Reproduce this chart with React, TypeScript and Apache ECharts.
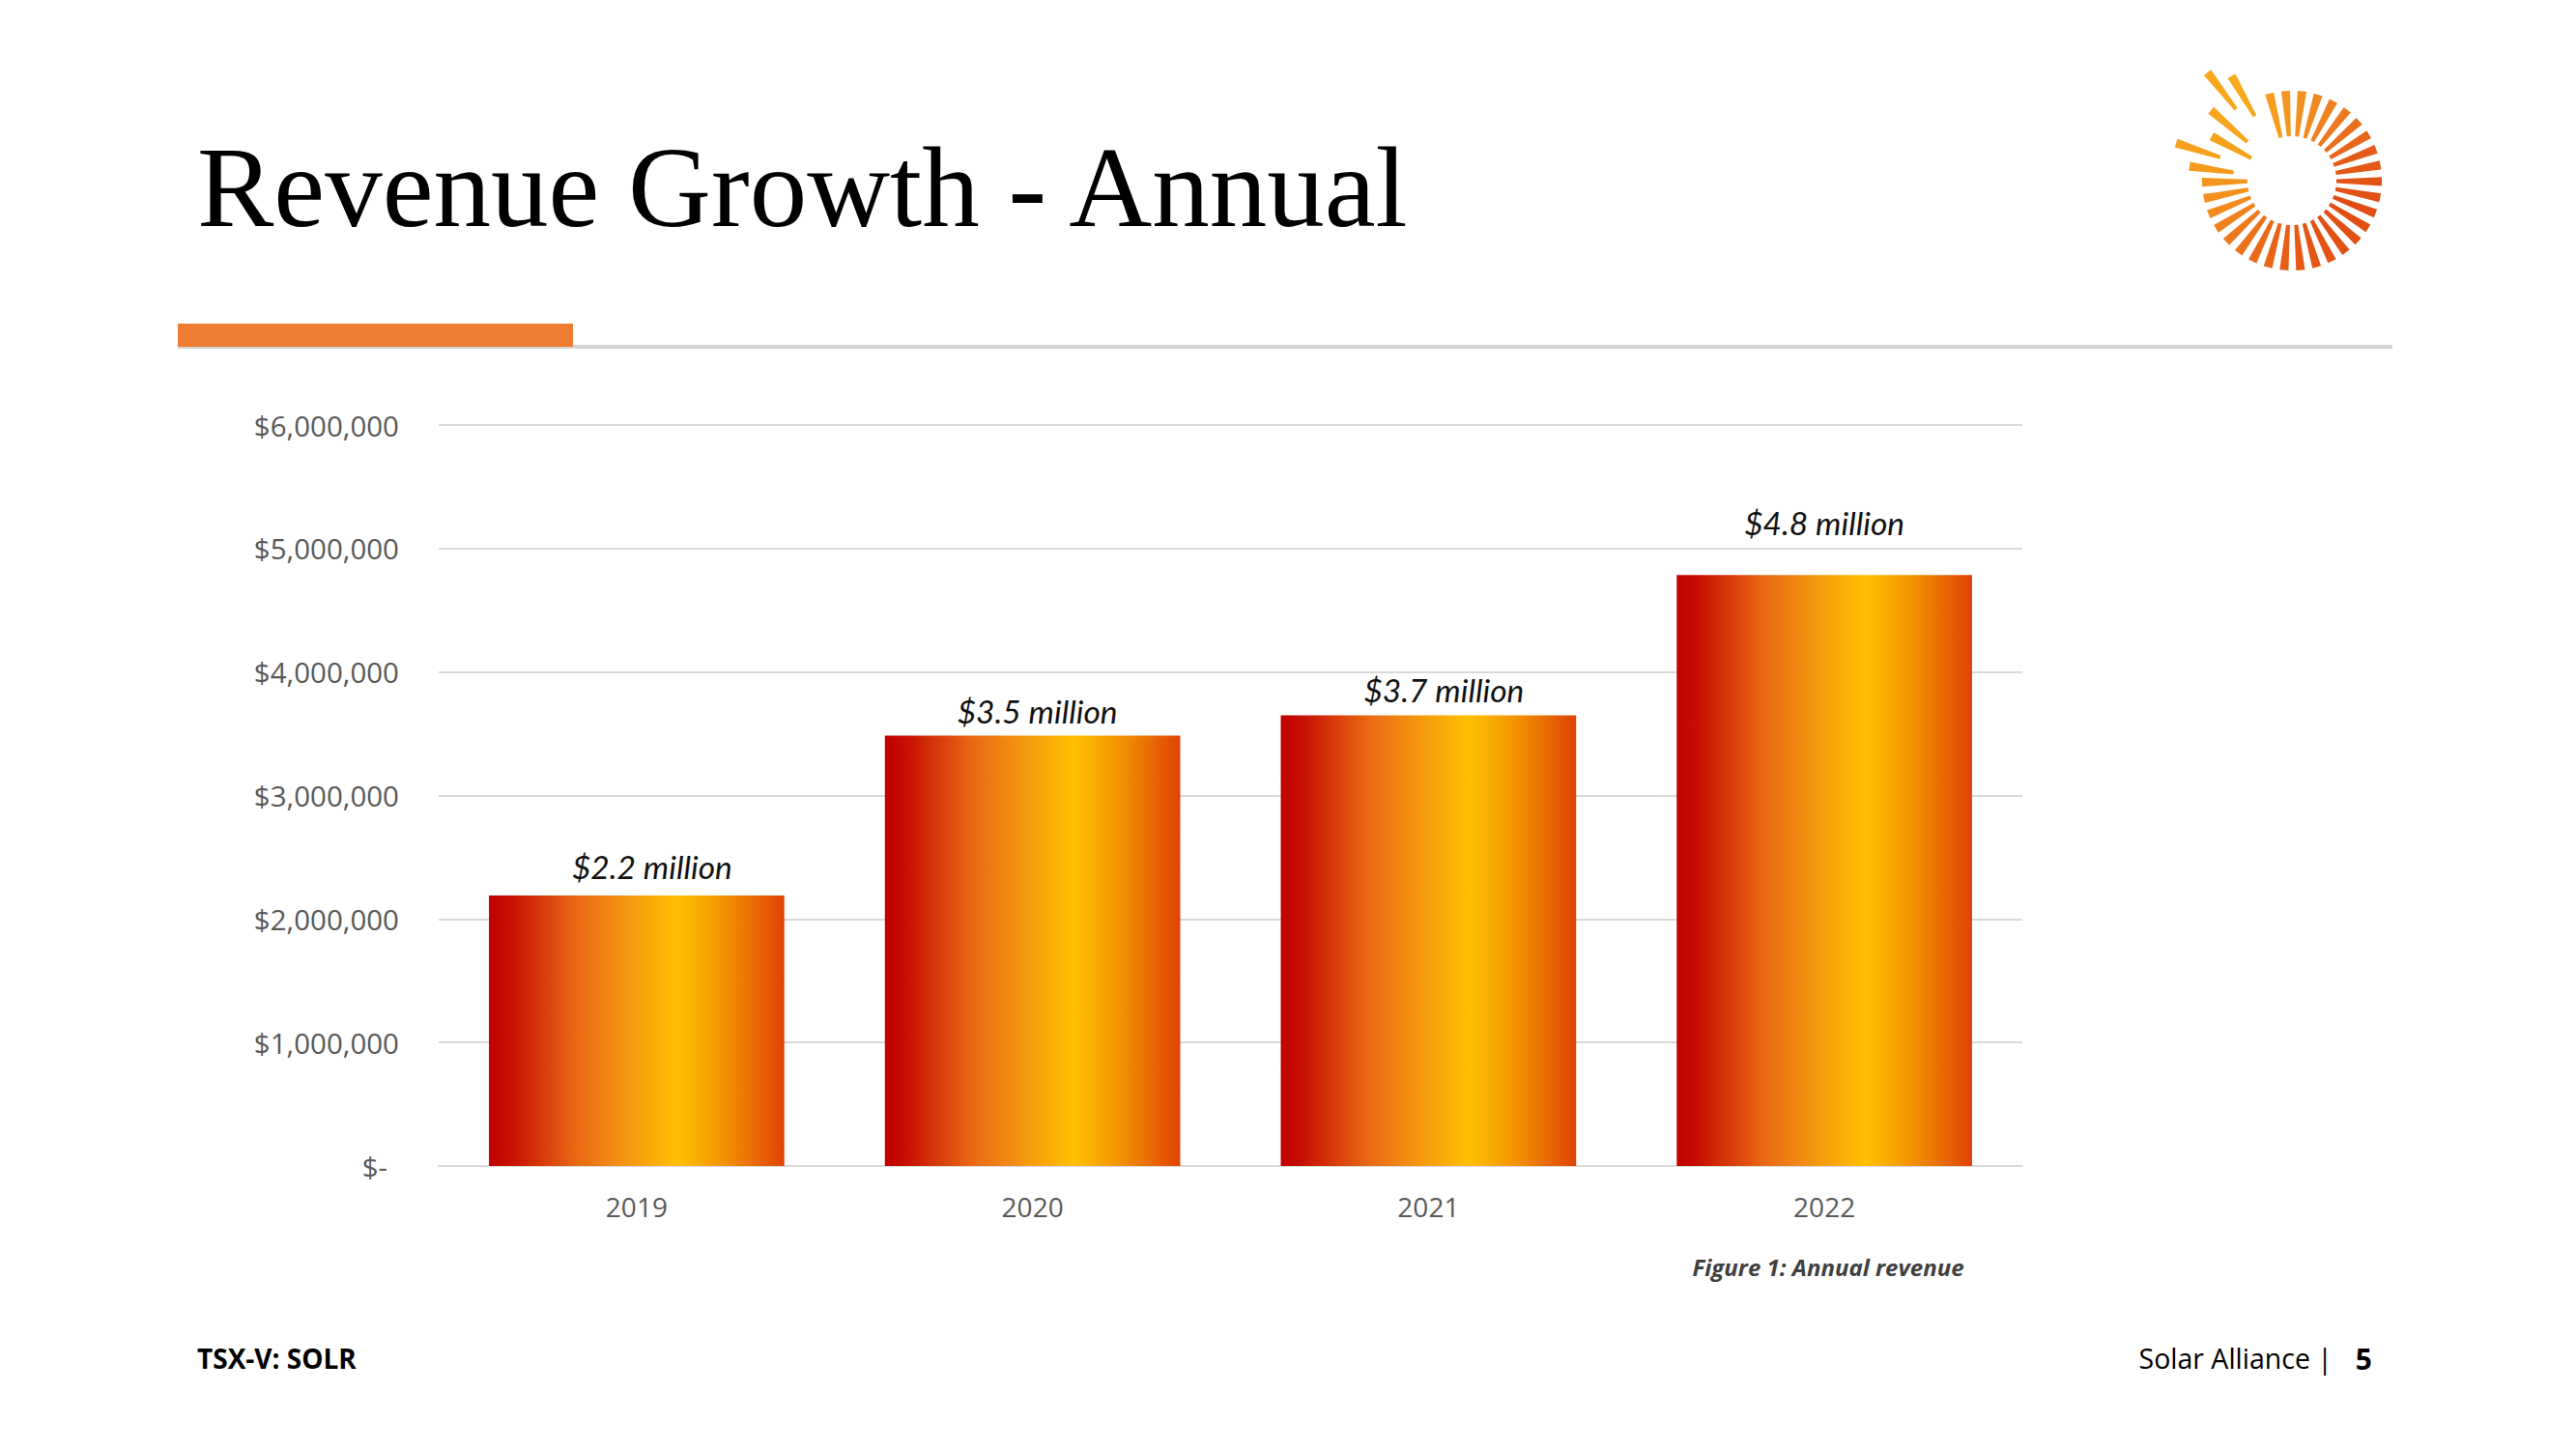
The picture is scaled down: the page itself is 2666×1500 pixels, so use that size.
import React, { useEffect, useRef } from "react";
import * as echarts from "echarts";

const categories = ["2019", "2020", "2021", "2022"];
const revenue = [2190000, 3485000, 3650000, 4785000];
const barLabels = ["$2.2 million", "$3.5 million", "$3.7 million", "$4.8 million"];
const yMin = 0;
const yMax = 6000000;
const yStep = 1000000;

// manual nudges of the value labels (pixels), as placed in the original slide
const labelOffsets = [
  [16, -2],
  [5, 2],
  [16, 2],
  [0, -26],
];

const titleText = "Revenue Growth - Annual";
const captionText = "Figure 1: Annual revenue";
const footerLeft = "TSX-V: SOLR";
const footerRight = "Solar Alliance |";
const pageNumber = "5";

// logo rays: [angleDeg, innerR, outerR]
const logoExtraRays = [
  [188, 61, 107],
  [198, 78, 126],
  [209, 48, 95],
  [221, 61, 111],
  [232, 94, 142],
  [240, 77, 125],
];

const colorStopsByAngle: [number, number[]][] = [
  [-110, [246, 162, 30]],
  [-60, [238, 128, 32]],
  [-20, [228, 92, 24]],
  [20, [224, 76, 20]],
  [70, [227, 84, 20]],
  [120, [234, 108, 26]],
  [160, [242, 140, 30]],
  [200, [246, 160, 28]],
  [245, [248, 170, 28]],
];

function rayColor(a: number) {
  for (let i = 0; i < colorStopsByAngle.length - 1; i++) {
    const [a0, c0] = colorStopsByAngle[i];
    const [a1, c1] = colorStopsByAngle[i + 1];
    if (a >= a0 && a <= a1) {
      const t = (a - a0) / (a1 - a0);
      const c = c0.map((v, k) => Math.round(v + (c1[k] - v) * t));
      return `rgb(${c[0]},${c[1]},${c[2]})`;
    }
  }
  const c = colorStopsByAngle[colorStopsByAngle.length - 1][1];
  return `rgb(${c[0]},${c[1]},${c[2]})`;
}

function buildLogo(cx: number, cy: number) {
  const rays: number[][] = [];
  for (let i = 0; i < 28; i++) rays.push([-104.5 + i * 10.5, 46, 93]);
  logoExtraRays.forEach((r) => rays.push(r));
  return rays.map(([a, r1, r2]) => {
    const rad = (a * Math.PI) / 180;
    const dx = Math.cos(rad);
    const dy = Math.sin(rad);
    const px = -dy;
    const py = dx;
    const w1 = 2;
    const w2 = 4.6;
    const pts = [
      [cx + dx * r1 + px * w1, cy + dy * r1 + py * w1],
      [cx + dx * r2 + px * w2, cy + dy * r2 + py * w2],
      [cx + dx * r2 - px * w2, cy + dy * r2 - py * w2],
      [cx + dx * r1 - px * w1, cy + dy * r1 - py * w1],
    ];
    return {
      type: "polygon",
      shape: { points: pts },
      style: { fill: rayColor(a) },
      silent: true,
    };
  });
}

export default function App() {
  const ref = useRef<HTMLDivElement>(null);
  useEffect(() => {
    if (!ref.current) return;
    const chart = echarts.init(ref.current, null, { renderer: "svg" });
    const axisColor = "#595959";
    const barData = revenue.map((v, i) => ({
      value: v,
      label: { offset: labelOffsets[i] },
    }));
    const option: any = {
      animation: false,
      backgroundColor: "#ffffff",
      grid: { left: 454, right: 573, top: 440, bottom: 293, containLabel: false },
      xAxis: {
        type: "category",
        data: categories,
        axisTick: { show: false },
        axisLine: { lineStyle: { color: "#D9D9D9", width: 2 } },
        axisLabel: {
          color: axisColor,
          fontFamily: "Open Sans",
          fontSize: 28,
          margin: 28,
        },
      },
      yAxis: {
        type: "value",
        min: yMin,
        max: yMax,
        interval: yStep,
        axisLine: { show: false },
        axisTick: { show: false },
        splitLine: { lineStyle: { color: "#D9D9D9", width: 2 } },
        axisLabel: {
          color: axisColor,
          fontFamily: "Open Sans",
          fontSize: 29.5,
          margin: 41,
          formatter: (v: number) =>
            v === 0 ? "{z|$-}" : "$" + v.toLocaleString("en-US"),
          rich: {
            z: {
              color: axisColor,
              fontFamily: "Open Sans",
              fontSize: 29.5,
              padding: [0, 12, 0, 0],
            },
          },
        },
      },
      series: [
        {
          type: "bar",
          data: barData,
          barWidth: "74.6%",
          itemStyle: {
            color: {
              type: "linear",
              x: 0,
              y: 0,
              x2: 1,
              y2: 0,
              colorStops: [
                { offset: 0, color: "#C00000" },
                { offset: 0.07, color: "#C60E02" },
                { offset: 0.3, color: "#EA6A14" },
                { offset: 0.45, color: "#F39210" },
                { offset: 0.64, color: "#FFC000" },
                { offset: 0.8, color: "#F29200" },
                { offset: 1, color: "#E04206" },
              ],
            },
          },
          label: {
            show: true,
            position: "top",
            distance: 11,
            formatter: (p: any) => barLabels[p.dataIndex],
            color: "#111111",
            fontFamily: "Lato",
            fontStyle: "italic",
            fontSize: 33.5,
          },
        },
      ],
      graphic: [
        {
          type: "text",
          x: 204,
          y: 194,
          style: {
            text: titleText,
            fontFamily: "Liberation Serif",
            fontSize: 119,
            fill: "#000000",
            textAlign: "left",
            textVerticalAlign: "middle",
          },
        },
        {
          type: "rect",
          shape: { x: 184, y: 357, width: 2292, height: 4 },
          style: { fill: "#D3D3D3" },
        },
        {
          type: "rect",
          shape: { x: 184, y: 335, width: 409, height: 24 },
          style: { fill: "#ED7D31" },
        },
        {
          type: "text",
          x: 1892,
          y: 1311,
          style: {
            text: captionText,
            fontFamily: "Open Sans",
            fontWeight: "bold",
            fontStyle: "italic",
            fontSize: 24,
            fill: "#404040",
            textAlign: "center",
            textVerticalAlign: "middle",
          },
        },
        {
          type: "text",
          x: 204,
          y: 1406,
          style: {
            text: footerLeft,
            fontFamily: "Open Sans",
            fontWeight: "bold",
            fontSize: 28,
            fill: "#000000",
            textAlign: "left",
            textVerticalAlign: "middle",
          },
        },
        {
          type: "text",
          x: 2414,
          y: 1406,
          style: {
            text: footerRight,
            fontFamily: "Open Sans",
            fontSize: 28.5,
            fill: "#000000",
            textAlign: "right",
            textVerticalAlign: "middle",
          },
        },
        {
          type: "text",
          x: 2455,
          y: 1406,
          style: {
            text: pageNumber,
            fontFamily: "Open Sans",
            fontWeight: "bold",
            fontSize: 30,
            fill: "#000000",
            textAlign: "right",
            textVerticalAlign: "middle",
          },
        },
        ...buildLogo(2372, 187),
      ],
    };
    chart.setOption(option);
    return () => chart.dispose();
  }, []);
  return (
    <div
      ref={ref}
      style={{
        position: "fixed",
        left: 0,
        top: 0,
        width: 2666,
        height: 1500,
        background: "#ffffff",
      }}
    />
  );
}
